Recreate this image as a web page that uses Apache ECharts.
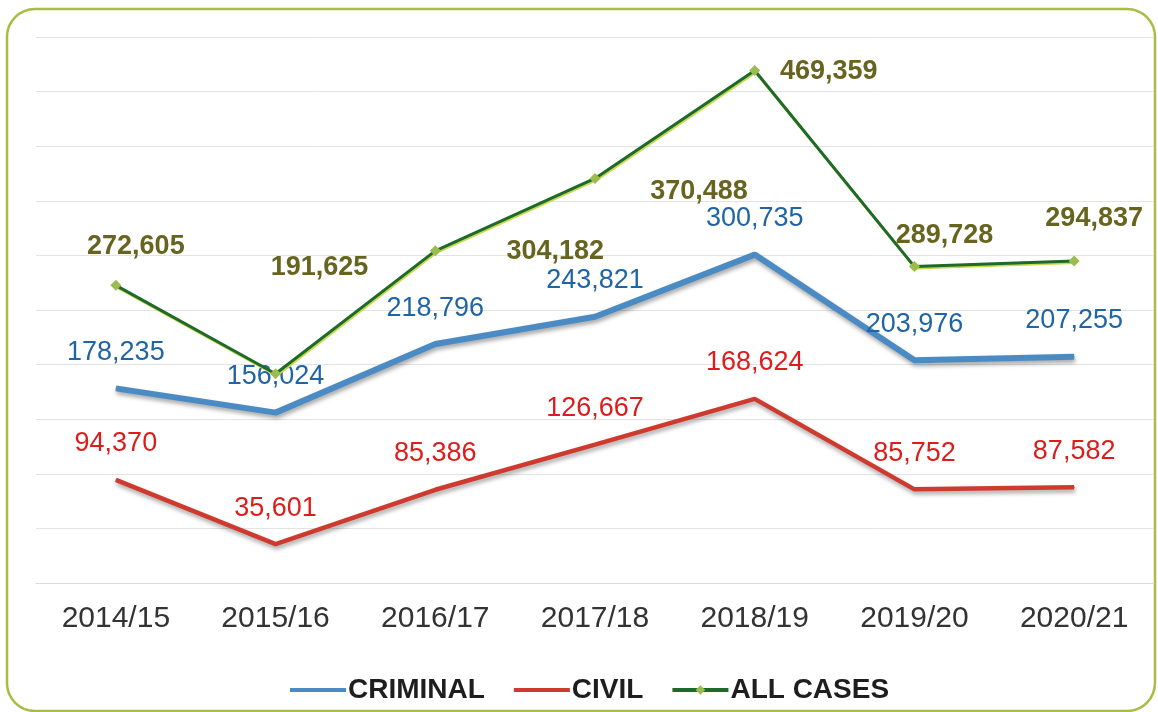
<!DOCTYPE html>
<html>
<head>
<meta charset="utf-8">
<title>Cases</title>
<script src="https://cdn.jsdelivr.net/npm/echarts@6/dist/echarts.min.js"></script>
<style>
  html, body { margin: 0; padding: 0; background: #fff; }
  #chart { width: 1158px; height: 712px; }
</style>
</head>
<body>
<div id="chart"></div>
<script>
const years = ['2014/15', '2015/16', '2016/17', '2017/18', '2018/19', '2019/20', '2020/21'];
const criminal = [178235, 156024, 218796, 243821, 300735, 203976, 207255];
const civil = [94370, 35601, 85386, 126667, 168624, 85752, 87582];
const allCases = [272605, 191625, 304182, 370488, 469359, 289728, 294837];

// label nudges for the ALL CASES series (px, relative to each point)
const allLabelOffsets = [[20, -39], [44, -106], [120, 1], [104, 13], [74, 1], [30, -31], [20, -42]];

const FONT = "'Liberation Sans', Arial, sans-serif";
const fmt = (v) => Number(v).toLocaleString('en-US');

function labelStyle(color, weight) {
  return {
    show: true,
    position: 'inside',
    offset: [0, -36],
    color,
    fontFamily: FONT,
    fontSize: 27,
    fontWeight: weight,
    formatter: (p) => fmt(p.value),
  };
}

const chart = echarts.init(document.getElementById('chart'));
const noMarker = { color: 'rgba(0,0,0,0)', borderWidth: 0 };

chart.setOption({
  animation: false,
  backgroundColor: '#fff',
  graphic: [
    {
      type: 'rect',
      z: -1,
      shape: { x: 7, y: 9, width: 1148, height: 702, r: 28 },
      style: { fill: '#fff', stroke: '#a9bd45', lineWidth: 2.5 },
    },
  ],
  legend: {
    left: 283,
    top: 671,
    itemWidth: 56,
    itemHeight: 12,
    itemGap: 27,
    lineStyle: { width: 4 },
    textStyle: { fontFamily: FONT, fontSize: 28, fontWeight: 'bold', color: '#1e1e1e', padding: [0, 0, 0, -3] },
    data: [
      { name: 'CRIMINAL', itemStyle: noMarker },
      { name: 'CIVIL', itemStyle: noMarker },
      { name: 'ALL CASES' },
    ],
  },
  grid: { left: 36, right: 4, top: 37, bottom: 129 },
  xAxis: {
    type: 'category',
    data: years,
    boundaryGap: true,
    axisLine: { lineStyle: { color: '#d9d9d9', width: 1 } },
    axisTick: { show: false },
    axisLabel: { color: '#333', fontFamily: FONT, fontSize: 30, margin: 21 },
  },
  yAxis: {
    type: 'value',
    min: 0,
    max: 500000,
    interval: 50000,
    axisLabel: { show: false },
    axisLine: { show: false },
    axisTick: { show: false },
    splitLine: { lineStyle: { color: '#e3e3e3', width: 1 } },
  },
  series: [
    {
      name: 'CRIMINAL',
      type: 'line',
      data: criminal,
      symbol: 'circle',
      symbolSize: 1,
      itemStyle: { color: '#4b8bc4' },
      lineStyle: {
        color: '#4b8bc4', width: 6,
        shadowColor: 'rgba(0,0,0,0.35)', shadowBlur: 4, shadowOffsetX: 1, shadowOffsetY: 3,
      },
      label: labelStyle('#1f64a4', 'normal'),
      z: 2,
    },
    {
      name: 'CIVIL',
      type: 'line',
      data: civil,
      symbol: 'circle',
      symbolSize: 1,
      itemStyle: { color: '#cf3a2e' },
      lineStyle: {
        color: '#cf3a2e', width: 4.5,
        shadowColor: 'rgba(0,0,0,0.35)', shadowBlur: 4, shadowOffsetX: 1, shadowOffsetY: 3,
      },
      label: labelStyle('#dd1c1c', 'normal'),
      z: 2,
    },
    {
      name: 'ALL CASES',
      type: 'line',
      data: allCases.map((v, i) => ({ value: v, label: { offset: allLabelOffsets[i] } })),
      symbol: 'diamond',
      symbolSize: 11,
      itemStyle: { color: '#9dbc4f' },
      lineStyle: {
        color: '#1e6a2b', width: 3,
        shadowColor: '#c9d94f', shadowBlur: 0, shadowOffsetX: 1, shadowOffsetY: 1.5,
      },
      label: labelStyle('#66641e', 'bold'),
      z: 3,
    },
  ],
});
</script>
</body>
</html>
